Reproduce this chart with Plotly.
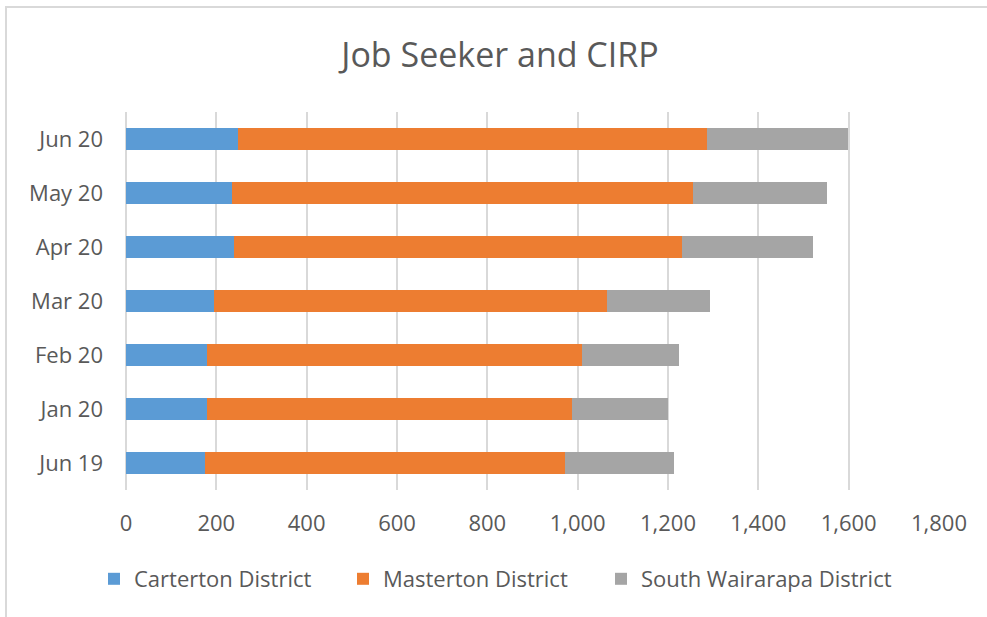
import plotly.graph_objects as go

months = ["Jun 19", "Jan 20", "Feb 20", "Mar 20", "Apr 20", "May 20", "Jun 20"]
carterton = [175, 180, 180, 195, 238, 235, 247]
masterton = [798, 808, 829, 871, 994, 1020, 1039]
south_wairarapa = [240, 211, 216, 226, 288, 298, 313]
x_ticks = [0, 200, 400, 600, 800, 1000, 1200, 1400, 1600, 1800]

series_names = ["Carterton District", "Masterton District", "South Wairarapa District"]
series_values = [carterton, masterton, south_wairarapa]
series_colors = ["#5B9BD5", "#ED7D31", "#A5A5A5"]
legend_ids = ["legend", "legend2", "legend3"]

W, H = 987, 617
L, R, T, B = 126, 48, 112, 127
pw, ph = W - L - R, H - T - B

font_color = "#595959"
fam = "Open Sans"

fig = go.Figure()
for name, vals, color, lg in zip(series_names, series_values, series_colors, legend_ids):
    fig.add_trace(go.Bar(
        y=months, x=vals, name=name, orientation="h",
        marker=dict(color=color, line=dict(width=0)),
        legend=lg, showlegend=True,
    ))


def legend_at(px_left):
    return dict(
        orientation="h",
        x=(px_left - L) / pw, xanchor="left", xref="paper",
        y=(H - B - 579) / ph, yanchor="middle", yref="paper",
        font=dict(family=fam, size=22, color=font_color),
        bgcolor="rgba(0,0,0,0)",
        visible=True,
    )


fig.update_layout(
    width=W, height=H,
    showlegend=True,
    margin=dict(l=L, r=R, t=T, b=B, autoexpand=False),
    barmode="stack",
    bargap=0.61,
    plot_bgcolor="white",
    paper_bgcolor="white",
    font=dict(family=fam, color=font_color, size=22),
    title=dict(
        text="Job Seeker and CIRP",
        font=dict(family=fam, size=34, color=font_color),
        x=500 / W, xref="container", xanchor="center",
        y=1 - 55 / H, yref="container", yanchor="middle",
    ),
    legend=legend_at(94),
    legend2=legend_at(343),
    legend3=legend_at(601),
    xaxis=dict(
        range=[0, 1800],
        tickvals=x_ticks,
        tickformat=",",
        showgrid=True, gridcolor="#d9d9d9", gridwidth=2,
        zeroline=True, zerolinecolor="#d9d9d9", zerolinewidth=2,
        showline=False, ticks="",
        ticklabelstandoff=18,
        tickfont=dict(family=fam, size=22, color=font_color),
    ),
    yaxis=dict(
        showgrid=False, zeroline=False, showline=False, ticks="",
        ticklabelstandoff=22,
        tickfont=dict(family=fam, size=22, color=font_color),
    ),
    shapes=[dict(
        type="rect", xref="paper", yref="paper",
        x0=(6 - L) / pw, x1=1.2, y0=-0.5, y1=(H - B - 7) / ph,
        line=dict(color="#d9d9d9", width=2), fillcolor="rgba(0,0,0,0)",
        layer="below",
    )],
)

fig.write_html(
    "out.html",
    config={"displayModeBar": False},
    post_script="document.body.style.margin='0';document.body.style.overflow='hidden';",
)
